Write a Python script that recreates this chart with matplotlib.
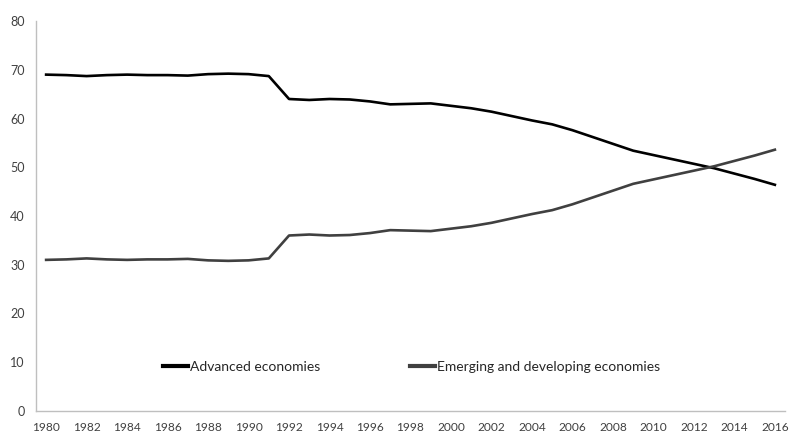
import matplotlib
matplotlib.use("Agg")
import matplotlib.pyplot as plt
import numpy as np

years = list(range(1980, 2017))
advanced = [69.0, 68.9, 68.7, 68.9, 69.0, 68.9, 68.9, 68.8, 69.1, 69.2, 69.1, 68.7,
            64.0, 63.8, 64.0, 63.9, 63.5, 62.9, 63.0, 63.1, 62.6, 62.1, 61.4, 60.5,
            59.6, 58.8, 57.6, 56.2, 54.8, 53.4, 52.5, 51.6, 50.7, 49.8, 48.7, 47.6, 46.4]
emerging = [31.0, 31.1, 31.3, 31.1, 31.0, 31.1, 31.1, 31.2, 30.9, 30.8, 30.9, 31.3,
            36.0, 36.2, 36.0, 36.1, 36.5, 37.1, 37.0, 36.9, 37.4, 37.9, 38.6, 39.5,
            40.4, 41.2, 42.4, 43.8, 45.2, 46.6, 47.5, 48.4, 49.3, 50.2, 51.3, 52.4, 53.6]
tick_years = [str(y) for y in years[::2]]

plt.rcParams["font.family"] = ["Lato", "DejaVu Sans"]

fig = plt.figure(figsize=(7.9, 4.37), dpi=100)
ax = fig.add_axes([36 / 790, 1 - 411 / 437, 749 / 790, 390 / 437])

x = np.arange(len(years))
ax.plot(x, advanced, color="#000000", linewidth=1.9, label="Advanced economies")
ax.plot(x, emerging, color="#404040", linewidth=1.9, label="Emerging and developing economies")

ax.set_xlim(-0.5, len(years) - 0.5)
ax.set_ylim(0, 80)
ax.set_yticks(range(0, 81, 10))
ax.set_xticks(x[::2])
ax.set_xticklabels(tick_years)

for s in ["top", "right"]:
    ax.spines[s].set_visible(False)
for s in ["left", "bottom"]:
    ax.spines[s].set_color("#bfbfbf")
    ax.spines[s].set_linewidth(1.0)
ax.tick_params(length=0, labelsize=9, labelcolor="#404040")
ax.tick_params(axis="y", pad=8)
ax.tick_params(axis="x", pad=8, labelsize=8.6)

leg = ax.legend(loc="center", bbox_to_anchor=(0.521, 0.16), bbox_transform=fig.transFigure,
                ncol=2, frameon=False, fontsize=10, handlelength=1.8, handletextpad=0.1,
                columnspacing=6.5)
for t in leg.get_texts():
    t.set_color("#262626")
for l in leg.get_lines():
    l.set_linewidth(3)

fig.savefig("out.png", dpi=100)
